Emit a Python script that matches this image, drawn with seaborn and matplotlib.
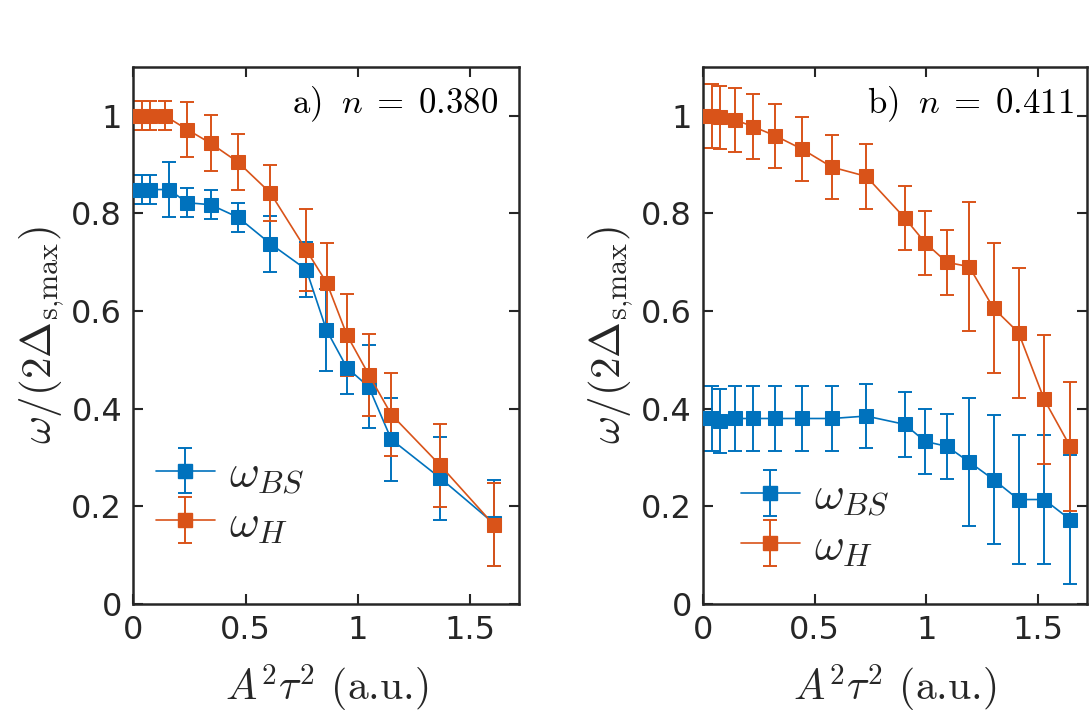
import numpy as np
import matplotlib
matplotlib.use("Agg")
import matplotlib.pyplot as plt
import seaborn as sns
import pandas as pd
from matplotlib.ticker import FuncFormatter

# ---------------- data ----------------
# panel a) n = 0.380
xa_bs = [0, 0.037, 0.074, 0.159, 0.24, 0.344, 0.467, 0.611, 0.771, 0.86, 0.952, 1.049, 1.15, 1.368, 1.607]
ya_bs = [0.849, 0.849, 0.849, 0.849, 0.822, 0.818, 0.792, 0.738, 0.685, 0.562, 0.484, 0.445, 0.337, 0.258, 0.165]
ea_bs = [0.03, 0.03, 0.03, 0.057, 0.03, 0.03, 0.03, 0.057, 0.057, 0.084, 0.053, 0.085, 0.085, 0.085, 0.088]

xa_h = [0, 0.037, 0.074, 0.141, 0.24, 0.344, 0.467, 0.611, 0.771, 0.863, 0.952, 1.049, 1.15, 1.368, 1.607]
ya_h = [1.0, 1.0, 1.0, 1.0, 0.972, 0.944, 0.905, 0.842, 0.725, 0.657, 0.551, 0.470, 0.388, 0.284, 0.162]
ea_h = [0.03, 0.03, 0.03, 0.03, 0.057, 0.057, 0.057, 0.057, 0.084, 0.083, 0.084, 0.084, 0.085, 0.085, 0.085]

# panel b) n = 0.411
xb = [0, 0.04, 0.078, 0.142, 0.224, 0.324, 0.443, 0.577, 0.731, 0.903, 0.995, 1.092, 1.192, 1.301, 1.413, 1.528, 1.644]
yb_bs = [0.380, 0.380, 0.375, 0.380, 0.380, 0.380, 0.380, 0.380, 0.385, 0.368, 0.333, 0.323, 0.291, 0.255, 0.214, 0.214, 0.173]
eb_bs = [0.066, 0.066, 0.066, 0.066, 0.066, 0.066, 0.066, 0.066, 0.066, 0.066, 0.066, 0.066, 0.132, 0.133, 0.133, 0.133, 0.133]
yb_h = [1.0, 1.0, 0.997, 0.992, 0.978, 0.959, 0.932, 0.895, 0.876, 0.791, 0.740, 0.700, 0.691, 0.606, 0.556, 0.419, 0.323]
eb_h = [0.066, 0.066, 0.064, 0.066, 0.066, 0.066, 0.066, 0.066, 0.066, 0.066, 0.066, 0.066, 0.132, 0.133, 0.133, 0.133, 0.132]

panel_labels = [r"$\mathrm{a)}\;\ n\;=\;0.380$", r"$\mathrm{b)}\;\ n\;=\;0.411$"]
series_labels = [r"$\omega_{BS}$", r"$\omega_H$"]
x_label = r"$A^2\tau^2$ (a.u.)"
y_label = r"$\omega/(2\Delta_{\mathrm{s{,}max}})$"
xticks = [0, 0.5, 1, 1.5]
yticks = [0, 0.2, 0.4, 0.6, 0.8, 1.0]

# ---------------- style ----------------
sns.set_theme(style="ticks")
plt.rcParams["font.family"] = ["DejaVu Sans"]
plt.rcParams["mathtext.fontset"] = "cm"

BLUE = "#0072BD"
ORANGE = "#D95319"

fig = plt.figure(figsize=(10.9, 7.23), dpi=100)
ax1 = fig.add_axes([0.1223, 0.1646, 0.3541, 0.7427])
ax2 = fig.add_axes([0.6450, 0.1646, 0.3523, 0.7427])

def fmt(v, pos):
    return "%g" % v

def draw(ax, series, label, ttxt_pos, leg_anchor):
    for (x, y, e, c, lab) in series:
        df = pd.DataFrame({"x": x, "y": y})
        ax.errorbar(x, y, yerr=e, fmt="none", ecolor=c, elinewidth=1.4,
                    capsize=5, capthick=1.4, zorder=2)
        sns.lineplot(data=df, x="x", y="y", ax=ax, color=c, marker="s",
                     markersize=10, markeredgecolor=c, linewidth=1.2,
                     legend=False, estimator=None, sort=False, zorder=3)
    handles = []
    for (x, y, e, c, lab) in series:
        h = ax.errorbar([np.nan], [np.nan], yerr=[np.nan], fmt="-s", color=c,
                        ecolor=c, markersize=10, linewidth=1.2, elinewidth=1.4,
                        capsize=5, capthick=1.4, label=lab)
        handles.append(h)
    ax.legend(handles=handles, loc="upper left", bbox_to_anchor=leg_anchor,
              frameon=False, fontsize=33, handlelength=1.3, handletextpad=0.3,
              labelspacing=0.1, borderaxespad=0)
    ax.set_xlim(0, 1.72)
    ax.set_ylim(0, 1.1)
    ax.set_xticks(xticks)
    ax.set_yticks(yticks)
    ax.xaxis.set_major_formatter(FuncFormatter(fmt))
    ax.yaxis.set_major_formatter(FuncFormatter(fmt))
    ax.tick_params(direction="in", length=7, width=1.5, labelsize=23,
                   top=True, right=True, colors="#262626", pad=8)
    for s in ax.spines.values():
        s.set_linewidth(1.8)
        s.set_color("#262626")
        s.set_visible(True)
    ax.set_xlabel(x_label, fontsize=30, color="#262626", labelpad=12,
                  fontfamily="cmr10")
    ax.set_ylabel(y_label, fontsize=31, color="#262626", labelpad=4)
    ax.text(ttxt_pos[0], ttxt_pos[1], label, transform=ax.transAxes,
            ha="right", va="center", fontsize=25, color="black")

draw(ax1, [(xa_bs, ya_bs, ea_bs, BLUE, series_labels[0]),
           (xa_h, ya_h, ea_h, ORANGE, series_labels[1])],
     panel_labels[0], (0.945, 0.93), (0.01, 0.318))
draw(ax2, [(xb, yb_bs, eb_bs, BLUE, series_labels[0]),
           (xb, yb_h, eb_h, ORANGE, series_labels[1])],
     panel_labels[1], (0.965, 0.93), (0.05, 0.276))

fig.savefig("out.png", dpi=100)
